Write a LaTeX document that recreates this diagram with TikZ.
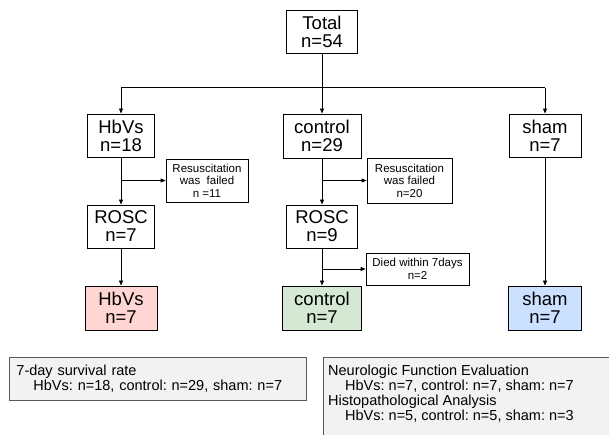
\documentclass[tikz,border=0pt]{standalone}
\usepackage{fontspec}
\setmainfont{Liberation Sans}
\usetikzlibrary{arrows.meta}
\frenchspacing
\definecolor{pinkfill}{RGB}{255,214,212}
\definecolor{greenfill}{RGB}{213,232,212}
\definecolor{bluefill}{RGB}{204,224,255}
\definecolor{infofill}{RGB}{242,242,242}
\definecolor{infoline}{RGB}{90,90,90}
\tikzset{
  bigbox/.style={draw=black, line width=0.9pt, align=center, inner sep=0pt,
    font=\fontsize{18.5}{18}\selectfont, minimum height=43pt},
  smallbox/.style={draw=black, line width=0.8pt, align=center, inner sep=0pt,
    font=\fontsize{11.5}{12.5}\selectfont},
  conn/.style={line width=0.8pt, -{Triangle[length=5pt,width=4pt]}},
  plainline/.style={line width=0.8pt},
  infobox/.style={draw=infoline, fill=infofill, line width=0.9pt},
  infotext/.style={align=left, font=\fontsize{14.5}{15}\selectfont},
}
\begin{document}
\begin{tikzpicture}[x=1pt, y=-1pt]
\useasboundingbox (0,0) rectangle (609,435);
\clip (0,0) rectangle (609,435);

% top
\node[bigbox, minimum width=71pt] (total) at (322,31.5) {Total\\n=54};

% first row
\node[bigbox, minimum width=67pt] (hbv)  at (121,135.5) {HbVs\\n=18};
\node[bigbox, minimum width=78pt, minimum height=44pt] (ctrl) at (322,136) {control\\n=29};
\node[bigbox, minimum width=72pt] (sham) at (545,135.5) {sham\\n=7};

% side notes
\node[smallbox, minimum width=82pt, minimum height=43pt] (res1) at (207,180.5) {Resuscitation\\was\ \ failed\\n =11};
\node[smallbox, minimum width=85pt, minimum height=45pt] (res2) at (409.5,180.5) {Resuscitation\\was failed\\n=20};

% ROSC
\node[bigbox, minimum width=67pt] (rosc1) at (121,226.5) {ROSC\\n=7};
\node[bigbox, minimum width=71pt] (rosc2) at (322,226.5) {ROSC\\n=9};

\node[smallbox, minimum width=103pt, minimum height=32pt] (died) at (417.5,269) {Died within 7days\\n=2};

% final groups
\node[bigbox, fill=pinkfill,  minimum width=72pt, minimum height=44pt] (fh) at (121,308) {HbVs\\n=7};
\node[bigbox, fill=greenfill, minimum width=79pt, minimum height=44pt] (fc) at (322,308) {control\\n=7};
\node[bigbox, fill=bluefill,  minimum width=73pt, minimum height=44pt] (fs) at (545,308) {sham\\n=7};

% connectors
\coordinate (split) at (322,87.7);
\draw[plainline] (split -| hbv) -- (split -| sham);
\draw[conn] (total) -- (ctrl);
\draw[conn] (split -| hbv) -- (hbv);
\draw[conn] (split -| sham) -- (sham);

\draw[conn] (hbv) -- (rosc1);
\draw[conn] (res1.west -| hbv) -- (res1.west);
\draw[conn] (rosc1) -- (fh);

\draw[conn] (ctrl) -- (rosc2);
\draw[conn] (res2.west -| ctrl) -- (res2.west);
\draw[conn] (rosc2) -- (fc);
\draw[conn] (died.west -| rosc2) -- (died.west);

\draw[conn] (sham) -- (fs);

% bottom info boxes
\node[infobox, infotext, anchor=north west, minimum width=297pt, minimum height=43pt,
      text width=283pt, inner xsep=7pt, inner ysep=0pt] (surv) at (9,357)
  {7-day survival rate\\\hspace*{17pt}HbVs: n=18, control: n=29, sham: n=7};

\path[infobox] (323,357) rectangle (640,460);
\node[infotext, anchor=north west, inner xsep=5pt, inner ysep=8pt] (neuro) at (323,357)
  {Neurologic Function Evaluation\\
   \hspace*{17pt}HbVs: n=7, control: n=7, sham: n=7\\
   Histopathological Analysis\\
   \hspace*{17pt}HbVs: n=5, control: n=5, sham: n=3};
\end{tikzpicture}
\end{document}
